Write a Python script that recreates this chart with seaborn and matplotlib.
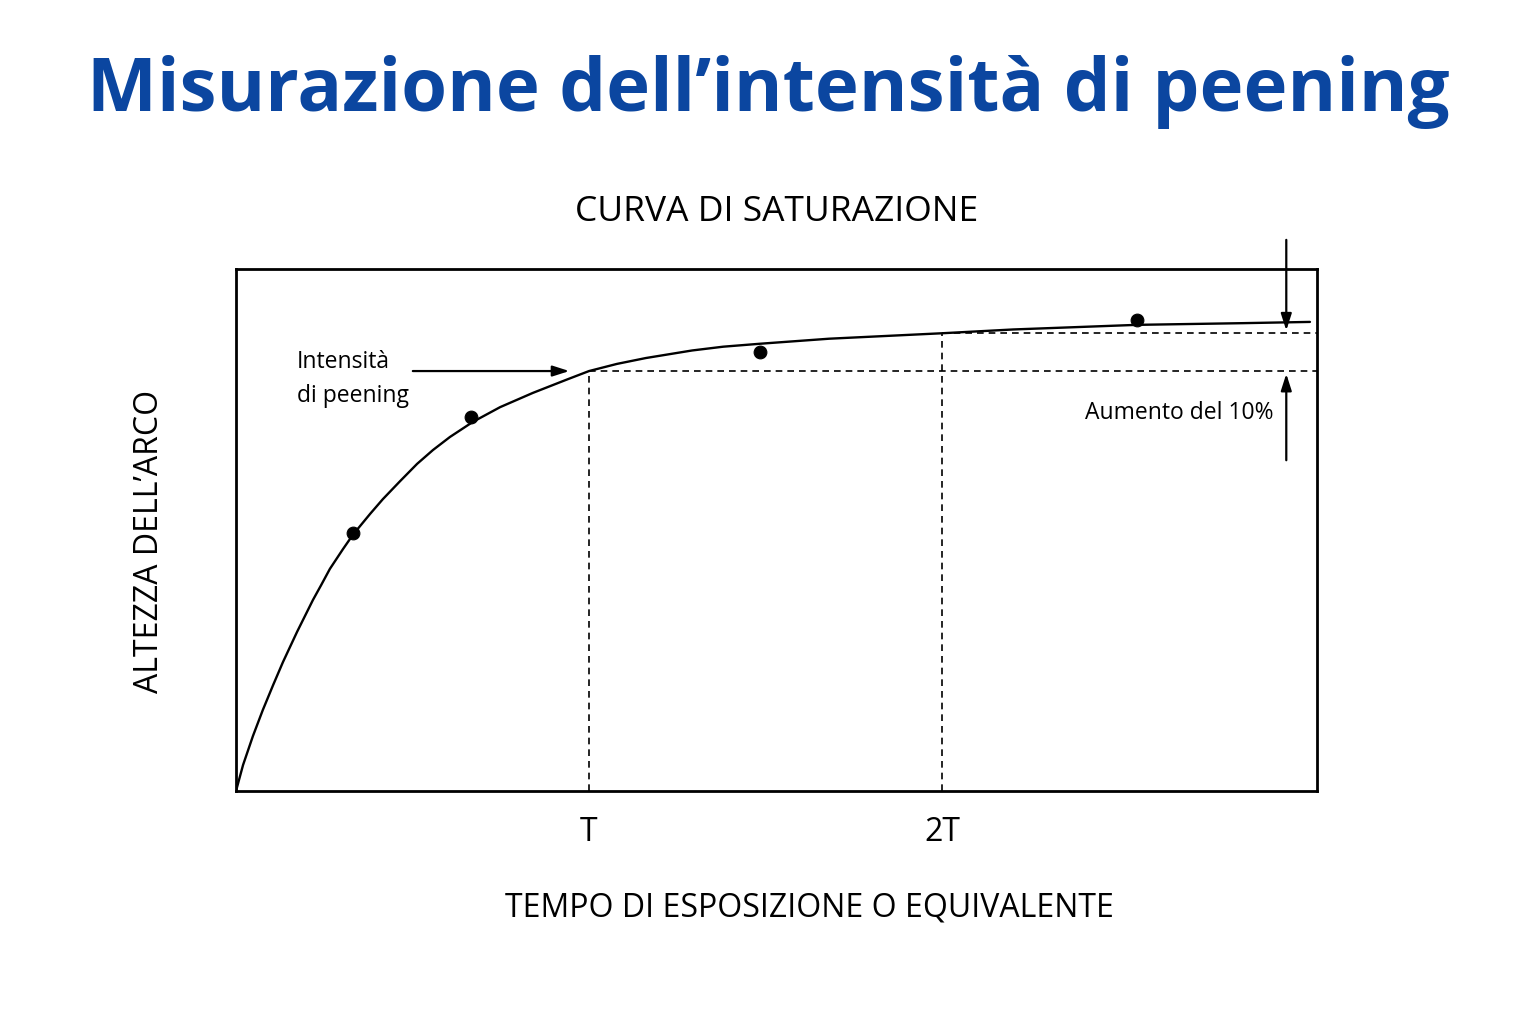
import matplotlib
matplotlib.use("Agg")
import matplotlib.pyplot as plt
import seaborn as sns
import pandas as pd

# exposure time in units of T, arc height normalised so that height at T = 1
curve_x = [0.0, 0.020, 0.048, 0.076, 0.105, 0.133, 0.173, 0.218, 0.241, 0.266,
           0.303, 0.331, 0.380, 0.416, 0.465, 0.513, 0.558, 0.606, 0.671, 0.748,
           0.841, 0.938, 1.0, 1.079, 1.161, 1.292, 1.380, 1.484, 1.680, 2.0,
           2.201, 2.552, 2.850, 3.042]
curve_y = [0.0, 0.062, 0.131, 0.193, 0.252, 0.307, 0.379, 0.455, 0.490, 0.529,
           0.576, 0.610, 0.660, 0.695, 0.738, 0.779, 0.812, 0.843, 0.879, 0.914,
           0.948, 0.980, 1.0, 1.017, 1.031, 1.049, 1.058, 1.065, 1.077, 1.090,
           1.099, 1.110, 1.114, 1.117]

sample_x = [0.331, 0.666, 1.484, 2.552]
sample_y = [0.614, 0.890, 1.045, 1.121]

tick_pos = [1.0, 2.0]
tick_labels = ["T", "2T"]

intensity_t = 1.0
intensity_2t = 1.09

x_max = 3.062
y_max = 1.243

sns.set_style("white")
plt.rcParams["font.family"] = ["Open Sans", "DejaVu Sans"]
plt.rcParams["text.color"] = "black"
plt.rcParams["axes.labelcolor"] = "black"
plt.rcParams["xtick.color"] = "black"

fig = plt.figure(figsize=(15.36, 10.24), dpi=100)
ax = fig.add_axes([236 / 1536, 1 - 791 / 1024, 1081 / 1536, 522 / 1024])

curve = pd.DataFrame({"t": curve_x, "h": curve_y})
samples = pd.DataFrame({"t": sample_x, "h": sample_y})
sns.lineplot(data=curve, x="t", y="h", ax=ax, color="black", linewidth=1.7,
             sort=True)
sns.scatterplot(data=samples, x="t", y="h", ax=ax, color="black", s=85,
                edgecolor="black", zorder=5)

dash = dict(color="black", linewidth=1.2, linestyle=(0, (4, 3)))
ax.plot([tick_pos[0], tick_pos[0]], [0, intensity_t], **dash)
ax.plot([tick_pos[0], x_max], [intensity_t, intensity_t], **dash)
ax.plot([tick_pos[1], tick_pos[1]], [0, intensity_2t], **dash)
ax.plot([tick_pos[1], x_max], [intensity_2t, intensity_2t], **dash)

arrow = dict(arrowstyle="-|>,head_length=1.0,head_width=0.32", color="black", lw=1.6)
ax.annotate("", xy=(0.952, intensity_t), xytext=(0.493, intensity_t), arrowprops=arrow)
ax.text(0.173, 0.981, "Intensità\ndi peening", fontsize=16.5, ha="left", va="center",
        linespacing=1.6)

ax.annotate("", xy=(2.975, intensity_2t), xytext=(2.975, 1.319), arrowprops=arrow,
            annotation_clip=False)
ax.annotate("", xy=(2.975, intensity_t), xytext=(2.975, 0.781), arrowprops=arrow)
ax.text(2.94, 0.9, "Aumento del 10%", fontsize=16.5, ha="right", va="center")

ax.set_xlim(0, x_max)
ax.set_ylim(0, y_max)
ax.set_xticks(tick_pos)
ax.set_xticklabels(tick_labels, fontsize=23)
ax.set_yticks([])
ax.tick_params(axis="x", length=0, pad=18)
for s in ax.spines.values():
    s.set_visible(True)
    s.set_color("black")
    s.set_linewidth(2)

ax.set_xlabel("TEMPO DI ESPOSIZIONE O EQUIVALENTE", fontsize=23)
ax.xaxis.set_label_coords((809 - 236) / 1081, -(908 - 791) / 522)
ax.xaxis.label.set_va("center")
ax.set_ylabel("ALTEZZA DELL’ARCO", fontsize=23)
ax.yaxis.set_label_coords(-(236 - 150) / 1081, (791 - 541) / 522)
ax.yaxis.label.set_va("center")
ax.set_title("CURVA DI SATURAZIONE", fontsize=25.5, pad=0, y=(791 - 212) / 522,
             va="center")

fig.text(0.5, 1 - 92 / 1024, "Misurazione dell’intensità di peening", fontsize=53.5,
         fontweight="bold", color="#0B46A0", ha="center", va="center")

fig.savefig("out.png", dpi=100, facecolor="white")
